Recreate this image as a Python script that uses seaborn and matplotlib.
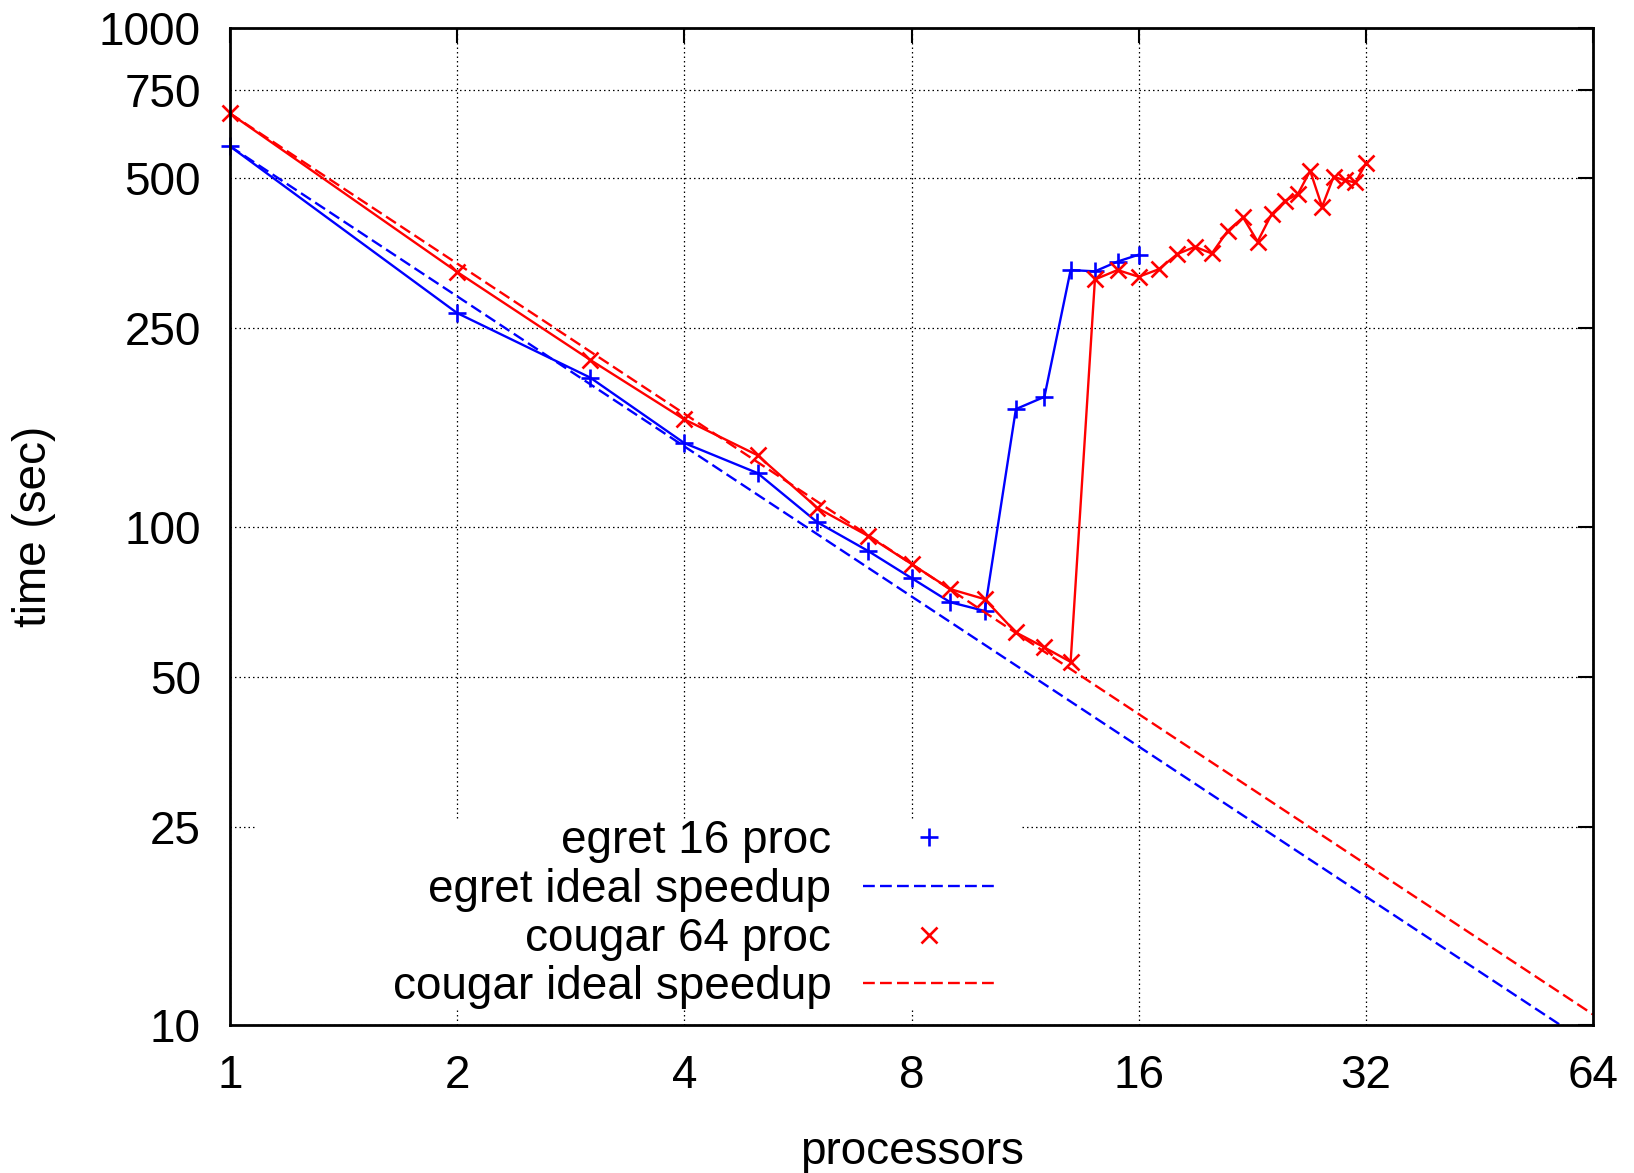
import matplotlib
matplotlib.use("Agg")
import matplotlib.pyplot as plt
import seaborn as sns
from matplotlib.lines import Line2D
from matplotlib.patches import Rectangle
from matplotlib.ticker import NullLocator

# ==============================
# DATA
# ==============================

egret_procs = list(range(1, 17))
egret_time = [579, 268, 199, 147, 128, 102, 89.4, 78.8,
              70.5, 67.7, 172, 182, 327, 325, 340, 351]

cougar_procs = list(range(1, 33))
cougar_time = [674, 324, 216, 164, 139, 109, 95.8, 84.1,
               74.9, 71.5, 61.3, 57.2, 53.5, 313, 327, 317,
               328, 352, 364, 353, 392, 417, 373, 423,
               450, 464, 517, 438, 503, 495, 490, 535]

ideal_procs = [1, 64]
egret_ideal = [579, 9.05]
cougar_ideal = [674, 10.5]

x_ticks = [1, 2, 4, 8, 16, 32, 64]
y_ticks = [10, 25, 50, 100, 250, 500, 750, 1000]

labels = ["egret 16 proc", "egret ideal speedup",
          "cougar 64 proc", "cougar ideal speedup"]

# ==============================
# STYLE
# ==============================

sns.set_theme(style="white")
plt.rcParams['font.family'] = ['Liberation Sans', 'DejaVu Sans']
plt.rcParams['font.size'] = 33
plt.rcParams['text.color'] = 'black'
plt.rcParams['axes.labelcolor'] = 'black'
plt.rcParams['xtick.color'] = 'black'
plt.rcParams['ytick.color'] = 'black'

BLUE = "#0000ff"
RED = "#ff0000"
dash = (0, (5, 2.2))
FS = 33
LW = 1.7
MEW = 1.9

fig = plt.figure(figsize=(16.34, 11.73), dpi=100)
ax = fig.add_axes([0.1408, 0.1262, 0.8341, 0.8499])

# ==============================
# PLOT
# ==============================

sns.lineplot(x=egret_procs, y=egret_time, ax=ax, color=BLUE, lw=LW,
             marker="+", markersize=13, markeredgewidth=MEW,
             markeredgecolor=BLUE, legend=False, clip_on=False)
sns.lineplot(x=ideal_procs, y=egret_ideal, ax=ax, color=BLUE, lw=LW,
             linestyle=dash, legend=False)
sns.lineplot(x=cougar_procs, y=cougar_time, ax=ax, color=RED, lw=LW,
             marker="x", markersize=12, markeredgewidth=MEW,
             markeredgecolor=RED, legend=False, clip_on=False)
sns.lineplot(x=ideal_procs, y=cougar_ideal, ax=ax, color=RED, lw=LW,
             linestyle=dash, legend=False)

ax.set_xscale("log", base=2)
ax.set_yscale("log")
ax.set_xlim(1, 64)
ax.set_ylim(10, 1000)
ax.set_xticks(x_ticks, [str(t) for t in x_ticks])
ax.set_yticks(y_ticks, [str(t) for t in y_ticks])
ax.xaxis.set_minor_locator(NullLocator())
ax.yaxis.set_minor_locator(NullLocator())

ax.set_axisbelow(True)
ax.grid(True, color="black", lw=0.9, linestyle=(0, (1.2, 2.4)))
ax.tick_params(axis="both", which="major", direction="in", length=11,
               width=1.5, color="black", labelcolor="black", labelsize=FS,
               pad=21, top=True, right=True)
for s in ax.spines.values():
    s.set_color("black")
    s.set_linewidth(2)

ax.set_xlabel("processors", fontsize=FS, labelpad=23, color="black")
ax.set_ylabel("time (sec)", fontsize=FS, labelpad=31, color="black")

# white key box like gnuplot (hides the grid behind it)
ax.add_patch(Rectangle((0.019, 0.017), 0.562, 0.19, transform=ax.transAxes,
                       facecolor="white", edgecolor="none", zorder=1))

handles = [
    Line2D([], [], color=BLUE, marker="+", linestyle="none",
           markersize=13, markeredgewidth=MEW),
    Line2D([], [], color=BLUE, lw=LW, linestyle=dash),
    Line2D([], [], color=RED, marker="x", linestyle="none",
           markersize=12, markeredgewidth=MEW),
    Line2D([], [], color=RED, lw=LW, linestyle=dash),
]
leg = ax.legend(handles, labels, loc="center right",
                bbox_to_anchor=(0.5605, 0.111), frameon=False,
                markerfirst=False, fontsize=FS, handlelength=2.85,
                handletextpad=0.7, labelspacing=0.1, borderpad=0,
                borderaxespad=0)
for t in leg.get_texts():
    t.set_color("black")

fig.savefig("out.png", dpi=100)
